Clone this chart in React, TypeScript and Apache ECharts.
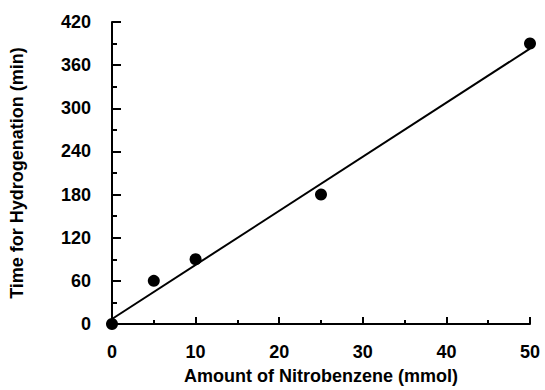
import React, { useEffect, useRef } from "react";
import * as echarts from "echarts";

const measuredPoints: [number, number][] = [
  [0, 0],
  [5, 60],
  [10, 90],
  [25, 180],
  [50, 390],
];
const fitLine: [number, number][] = [
  [0, 7],
  [50, 383],
];
const xTitle = "Amount of Nitrobenzene (mmol)";
const yTitle = "Time for Hydrogenation (min)";

export default function App() {
  const ref = useRef<HTMLDivElement>(null);
  useEffect(() => {
    if (!ref.current) return;
    const chart = echarts.init(ref.current, undefined, { renderer: "svg" });
    const font = "'Liberation Sans', Arial, sans-serif";
    chart.setOption({
      animation: false,
      backgroundColor: "#ffffff",
      grid: { left: 112, right: 15, top: 22, bottom: 60 },
      xAxis: {
        type: "value",
        min: 0,
        max: 50,
        interval: 10,
        name: xTitle,
        nameLocation: "middle",
        nameGap: 43,
        nameTextStyle: { fontFamily: font, fontWeight: "bold", fontSize: 18, color: "#000" },
        axisLine: { show: true, lineStyle: { color: "#000", width: 2 } },
        axisTick: { show: true, inside: true, length: 7, lineStyle: { color: "#000", width: 2 } },
        minorTick: { show: true, splitNumber: 2, length: 4, lineStyle: { color: "#000", width: 2 } },
        splitLine: { show: false },
        axisLabel: { margin: 19, fontFamily: font, fontWeight: "bold", fontSize: 18, color: "#000" },
      },
      yAxis: {
        type: "value",
        min: 0,
        max: 420,
        interval: 60,
        name: yTitle,
        nameLocation: "middle",
        nameRotate: 90,
        nameGap: 86,
        nameTextStyle: { fontFamily: font, fontWeight: "bold", fontSize: 18, color: "#000" },
        axisLine: { show: true, lineStyle: { color: "#000", width: 2 } },
        axisTick: { show: true, inside: true, length: 9, lineStyle: { color: "#000", width: 2 } },
        minorTick: { show: true, splitNumber: 2, length: 5, lineStyle: { color: "#000", width: 2 } },
        splitLine: { show: false },
        axisLabel: { margin: 21, fontFamily: font, fontWeight: "bold", fontSize: 18, color: "#000" },
      },
      series: [
        {
          type: "line",
          data: fitLine,
          symbol: "none",
          lineStyle: { color: "#000", width: 2 },
          z: 2,
        },
        {
          type: "scatter",
          data: measuredPoints,
          symbol: "circle",
          symbolSize: 12,
          itemStyle: { color: "#000", opacity: 1 },
          z: 3,
        },
      ],
    });
    return () => chart.dispose();
  }, []);
  return <div ref={ref} style={{ width: 545, height: 390, position: "absolute", left: 0, top: 0 }} />;
}
